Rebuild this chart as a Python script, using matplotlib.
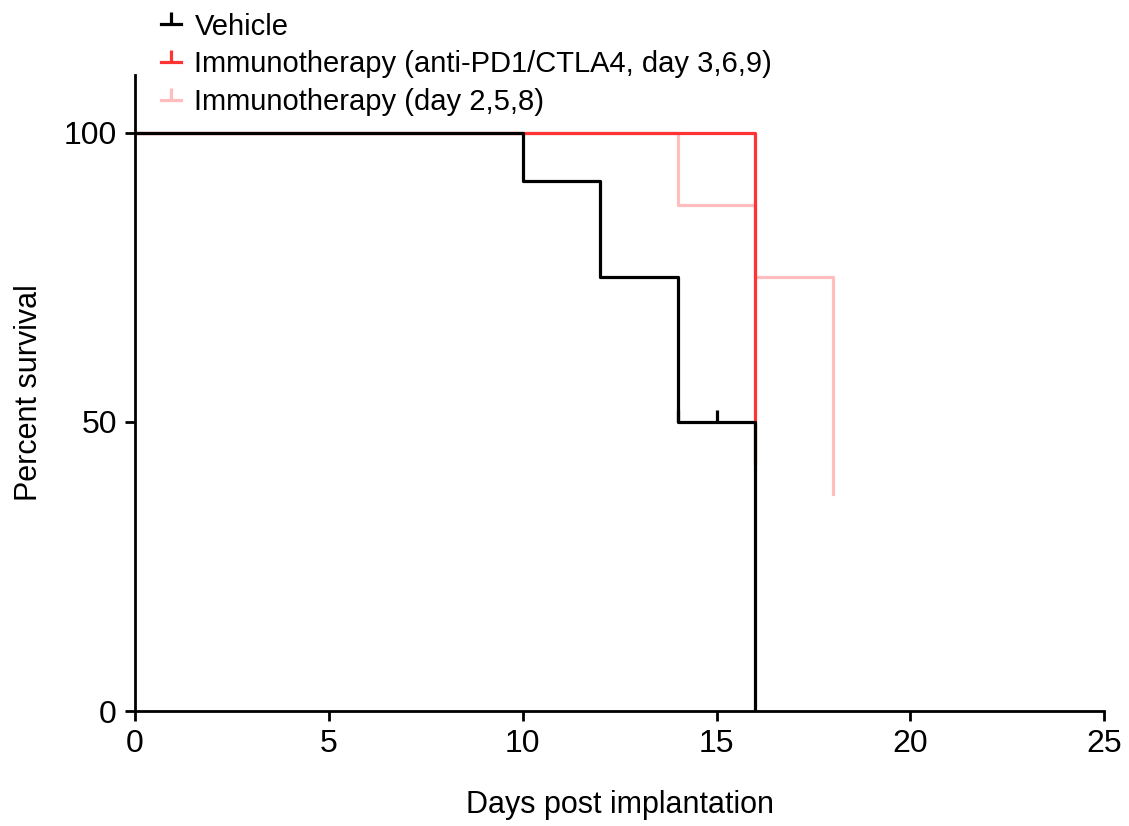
import matplotlib
matplotlib.use("Agg")
import matplotlib.pyplot as plt
from matplotlib.lines import Line2D

plt.rcParams['font.family'] = ['Liberation Sans', 'DejaVu Sans']

# Kaplan-Meier survival data (step, post)
vehicle_days = [0, 10, 12, 14, 16]
vehicle_surv = [100, 91.67, 75, 50, 0]
vehicle_censor_days = [14, 15]
vehicle_censor_surv = [50, 50]

immuno_days = [0, 16]
immuno_surv = [100, 42.86]

immuno2_days = [0, 14, 16, 18]
immuno2_surv = [100, 87.5, 75, 37.5]

labels = ['Vehicle',
          'Immunotherapy (anti-PD1/CTLA4, day 3,6,9)',
          'Immunotherapy (day 2,5,8)']
colors = ['#000000', '#FF3333', '#FFBDBD']

x_ticks = [0, 5, 10, 15, 20, 25]
y_ticks = [0, 50, 100]

fig = plt.figure(figsize=(11.29, 8.26), dpi=100)
ax = fig.add_axes([0.1196, 0.1392, 0.8584, 0.7698])

lw = 2.3
ax.step(immuno2_days, immuno2_surv, where='post', color=colors[2], lw=lw, zorder=2)
ax.step(immuno_days, immuno_surv, where='post', color=colors[1], lw=lw, zorder=3)
ax.step(vehicle_days, vehicle_surv, where='post', color=colors[0], lw=lw, zorder=4)
ax.plot(vehicle_censor_days, vehicle_censor_surv, ls='none', marker=2,
        markersize=9, mew=lw, color=colors[0], zorder=5)

ax.set_xlim(0, 25)
ax.set_ylim(0, 110)
ax.set_xticks(x_ticks)
ax.set_yticks(y_ticks)
ax.tick_params(axis='both', direction='out', length=7, width=2,
               labelsize=23, pad=6)
for side in ['top', 'right']:
    ax.spines[side].set_visible(False)
for side in ['left', 'bottom']:
    ax.spines[side].set_linewidth(2)

ax.set_xlabel('Days post implantation', fontsize=22, labelpad=22)
ax.set_ylabel('Percent survival', fontsize=22, labelpad=14)

handles = [Line2D([0], [0], color=c, lw=lw, marker=2, markersize=9, mew=lw)
           for c in colors]
fig.legend(handles, labels, loc='upper left', bbox_to_anchor=(0.127, 1.006),
           frameon=False, fontsize=21, handlelength=0.7, handletextpad=0.45,
           labelspacing=0.33, borderaxespad=0.2)

fig.savefig('out.png', dpi=100)
